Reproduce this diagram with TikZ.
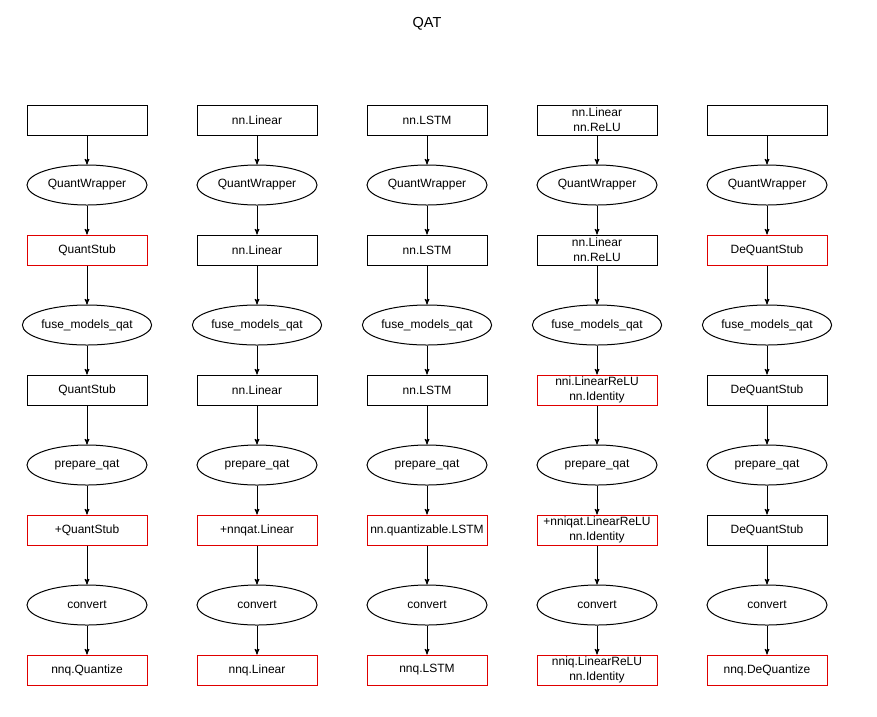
\documentclass[tikz,border=0pt]{standalone}
\usepackage{fontspec}
\setmainfont{Liberation Sans}
\usetikzlibrary{arrows,shapes.geometric}
\definecolor{stubred}{HTML}{E00000}

\begin{document}
\begin{tikzpicture}[->,>=stealth',x=1pt,y=1pt,node distance=65pt,line width=1pt,
                    mod/.style={draw,rectangle,minimum width=120pt,minimum height=30pt,
                                inner sep=0pt,align=center,font=\fontsize{12}{15}\selectfont},
                    qmod/.style={mod,draw=stubred},
                    fn/.style={draw,ellipse,minimum width=120pt,minimum height=40pt,
                               inner sep=0pt,font=\fontsize{12}{15}\selectfont},
                    far/.style={node distance=75pt}]

  \useasboundingbox (0,0) rectangle (877,-716);
  \node (title) at (427,-24) {\fontsize{14.5}{17}\selectfont QAT};

  % top row
  \node[mod] (A1) at (87,-120)                     {};
  \node[mod] (B1) [node distance=170pt,right of=A1] {nn.Linear};
  \node[mod] (C1) [node distance=170pt,right of=B1] {nn.LSTM};
  \node[mod] (D1) [node distance=170pt,right of=C1] {nn.Linear\\nn.ReLU};
  \node[mod] (E1) [node distance=170pt,right of=D1] {};

  % QuantStub column
  \node[fn]   (A2) [below of=A1]     {QuantWrapper};
  \node[qmod] (A3) [below of=A2]     {QuantStub};
  \node[fn]   (A4) [far,below of=A3] {fuse\_models\_qat};
  \node[mod]  (A5) [below of=A4]     {QuantStub};
  \node[fn]   (A6) [far,below of=A5] {prepare\_qat};
  \node[qmod] (A7) [below of=A6]     {+QuantStub};
  \node[fn]   (A8) [far,below of=A7] {convert};
  \node[qmod] (A9) [below of=A8]     {nnq.Quantize};

  % Linear column
  \node[fn]   (B2) [below of=B1]     {QuantWrapper};
  \node[mod]  (B3) [below of=B2]     {nn.Linear};
  \node[fn]   (B4) [far,below of=B3] {fuse\_models\_qat};
  \node[mod]  (B5) [below of=B4]     {nn.Linear};
  \node[fn]   (B6) [far,below of=B5] {prepare\_qat};
  \node[qmod] (B7) [below of=B6]     {+nnqat.Linear};
  \node[fn]   (B8) [far,below of=B7] {convert};
  \node[qmod] (B9) [below of=B8]     {nnq.Linear};

  % LSTM column
  \node[fn]   (C2) [below of=C1]     {QuantWrapper};
  \node[mod]  (C3) [below of=C2]     {nn.LSTM};
  \node[fn]   (C4) [far,below of=C3] {fuse\_models\_qat};
  \node[mod]  (C5) [below of=C4]     {nn.LSTM};
  \node[fn]   (C6) [far,below of=C5] {prepare\_qat};
  \node[qmod] (C7) [below of=C6]     {nn.quantizable.LSTM};
  \node[fn]   (C8) [far,below of=C7] {convert};
  \node[qmod] (C9) [below of=C8]     {nnq.LSTM};

  % Linear+ReLU column
  \node[fn]   (D2) [below of=D1]     {QuantWrapper};
  \node[mod]  (D3) [below of=D2]     {nn.Linear\\nn.ReLU};
  \node[fn]   (D4) [far,below of=D3] {fuse\_models\_qat};
  \node[qmod] (D5) [below of=D4]     {nni.LinearReLU\\nn.Identity};
  \node[fn]   (D6) [far,below of=D5] {prepare\_qat};
  \node[qmod] (D7) [below of=D6]     {+nniqat.LinearReLU\\nn.Identity};
  \node[fn]   (D8) [far,below of=D7] {convert};
  \node[qmod] (D9) [below of=D8]     {nniq.LinearReLU\\nn.Identity};

  % DeQuantStub column
  \node[fn]   (E2) [below of=E1]     {QuantWrapper};
  \node[qmod] (E3) [below of=E2]     {DeQuantStub};
  \node[fn]   (E4) [far,below of=E3] {fuse\_models\_qat};
  \node[mod]  (E5) [below of=E4]     {DeQuantStub};
  \node[fn]   (E6) [far,below of=E5] {prepare\_qat};
  \node[mod]  (E7) [below of=E6]     {DeQuantStub};
  \node[fn]   (E8) [far,below of=E7] {convert};
  \node[qmod] (E9) [below of=E8]     {nnq.DeQuantize};

  \path (A1) edge (A2) (A2) edge (A3) (A3) edge (A4) (A4) edge (A5)
        (A5) edge (A6) (A6) edge (A7) (A7) edge (A8) (A8) edge (A9);
  \path (B1) edge (B2) (B2) edge (B3) (B3) edge (B4) (B4) edge (B5)
        (B5) edge (B6) (B6) edge (B7) (B7) edge (B8) (B8) edge (B9);
  \path (C1) edge (C2) (C2) edge (C3) (C3) edge (C4) (C4) edge (C5)
        (C5) edge (C6) (C6) edge (C7) (C7) edge (C8) (C8) edge (C9);
  \path (D1) edge (D2) (D2) edge (D3) (D3) edge (D4) (D4) edge (D5)
        (D5) edge (D6) (D6) edge (D7) (D7) edge (D8) (D8) edge (D9);
  \path (E1) edge (E2) (E2) edge (E3) (E3) edge (E4) (E4) edge (E5)
        (E5) edge (E6) (E6) edge (E7) (E7) edge (E8) (E8) edge (E9);

\end{tikzpicture}
\end{document}
